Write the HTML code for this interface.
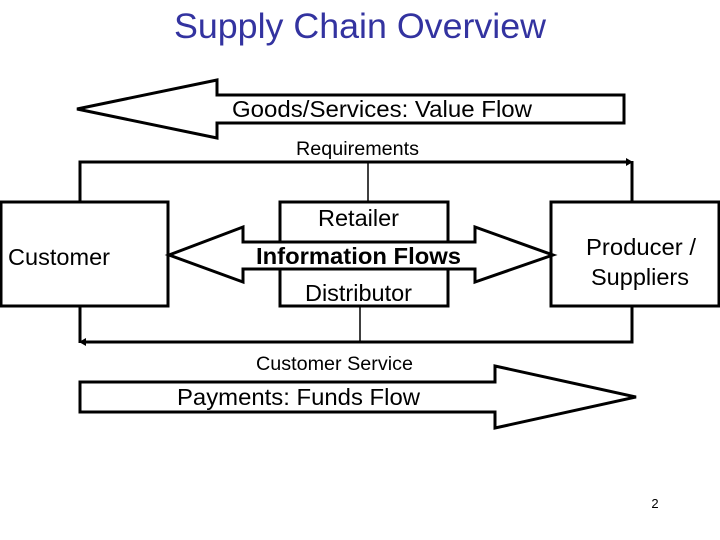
<!DOCTYPE html>
<html><head><style>
html,body{margin:0;padding:0;background:#fff;}
svg{display:block;}
text{font-family:"Liberation Sans",Arial,sans-serif;}
</style></head><body>
<svg width="720" height="540" viewBox="0 0 720 540" xmlns="http://www.w3.org/2000/svg">
<text x="174" y="38" font-size="35" fill="#3333a0" textLength="372" lengthAdjust="spacingAndGlyphs">Supply Chain Overview</text>
<polygon points="77,109 217,80 217,95 624,95 624,123 217,123 217,138" fill="#fff" stroke="#000" stroke-width="3"/>
<text x="232" y="117" font-size="23" textLength="300" lengthAdjust="spacingAndGlyphs">Goods/Services: Value Flow</text>
<text x="296" y="155" font-size="19" textLength="123" lengthAdjust="spacingAndGlyphs">Requirements</text>
<polyline points="80,202 80,162 630,162" fill="none" stroke="#000" stroke-width="3"/>
<line x1="632" y1="161" x2="632" y2="202" stroke="#000" stroke-width="3"/>
<polygon points="626,158 633,162 626,166" fill="#000"/>
<line x1="368" y1="162" x2="368" y2="202" stroke="#000" stroke-width="1.5"/>
<rect x="1" y="202" width="167" height="104" fill="#fff" stroke="#000" stroke-width="3"/>
<text x="8" y="265" font-size="23" textLength="102" lengthAdjust="spacingAndGlyphs">Customer</text>
<rect x="280" y="202" width="168" height="104" fill="#fff" stroke="#000" stroke-width="3"/>
<rect x="551" y="202" width="168" height="104" fill="#fff" stroke="#000" stroke-width="3"/>
<text x="586" y="255" font-size="23" textLength="110" lengthAdjust="spacingAndGlyphs">Producer /</text>
<text x="591" y="285" font-size="23" textLength="98" lengthAdjust="spacingAndGlyphs">Suppliers</text>
<polygon points="169,255 243,227 243,242 475,242 475,227 553,255 475,282 475,269 243,269 243,282" fill="#fff" stroke="#000" stroke-width="3"/>
<text x="318" y="226" font-size="23" textLength="81" lengthAdjust="spacingAndGlyphs">Retailer</text>
<text x="256" y="264" font-size="23" font-weight="bold" textLength="205" lengthAdjust="spacingAndGlyphs">Information Flows</text>
<text x="305" y="301" font-size="23" textLength="107" lengthAdjust="spacingAndGlyphs">Distributor</text>
<line x1="360" y1="307" x2="360" y2="342" stroke="#000" stroke-width="1.5"/>
<polyline points="632,307 632,342 84,342" fill="none" stroke="#000" stroke-width="3"/>
<line x1="80" y1="307" x2="80" y2="343" stroke="#000" stroke-width="3"/>
<polygon points="86,338 79,342 86,346" fill="#000"/>
<text x="256" y="370" font-size="19" textLength="157" lengthAdjust="spacingAndGlyphs">Customer Service</text>
<polygon points="80,382 495,382 495,366 636,397 495,428 495,412 80,412" fill="#fff" stroke="#000" stroke-width="3"/>
<text x="177" y="405" font-size="23" textLength="243" lengthAdjust="spacingAndGlyphs">Payments: Funds Flow</text>
<text x="655" y="508" text-anchor="middle" font-size="13" font-family="Liberation Serif, serif">2</text>
</svg>
</body></html>
